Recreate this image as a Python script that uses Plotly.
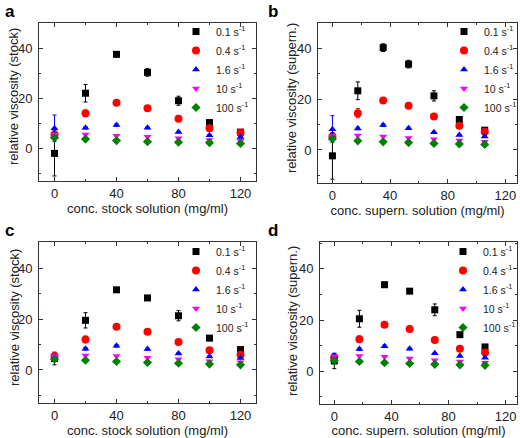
import plotly.graph_objects as go

# ---- data ----
x_stock = [0, 20, 40, 60, 80, 100, 120]
x_supern = [0, 17.6, 35.2, 52.8, 70.4, 88, 105.6]
rates = ["0.1 s<sup>-1</sup>", "0.4 s<sup>-1</sup>", "1.6 s<sup>-1</sup>", "10 s<sup>-1</sup>", "100 s<sup>-1</sup>"]

# panel a
a_01 = [-2, 22, 37.5, 30.3, 19, 10.3, 6.5]
a_01_err = [9, 3.5, 1, 1.5, 1.8, 0.6, 0.5]
a_04 = [5.5, 14, 18.2, 16, 11.8, 8, 6.2]
a_04_err = [1, 1.3, 0.5, 0.5, 0.5, 0.4, 0.3]
a_16 = [8, 8.2, 9.3, 8.2, 6.5, 5.2, 4.5]
a_16_err = [5.3, 0.5, 0.5, 0.4, 0.3, 0.3, 0.3]
a_10 = [5.5, 5.5, 5, 4.6, 4, 3.3, 3]
a_100 = [4.2, 3.7, 3.1, 2.7, 2.5, 2.3, 2]

# panel b
b_01 = [-2.3, 23.3, 40.3, 33.8, 21.3, 12, 7.8]
b_01_err = [9.2, 3.5, 1.5, 1.5, 2, 0.5, 0.5]
b_04 = [5.3, 14.5, 19.5, 17.4, 13.2, 9.5, 7.2]
b_04_err = [1, 1.8, 0.5, 0.5, 0.8, 0.4, 0.3]
b_16 = [8.2, 8.5, 9.8, 8.6, 7, 5.9, 5.3]
b_16_err = [5.3, 0.5, 0.5, 0.4, 0.3, 0.3, 0.3]
b_10 = [5.5, 5.7, 5.3, 4.7, 4.2, 3.7, 3.2]
b_100 = [4.3, 3.6, 3.2, 2.9, 2.6, 2.4, 2.2]

# panel c
c_01 = [4.5, 19.5, 31.5, 28.3, 21.3, 12.5, 8]
c_01_err = [2.5, 3, 0.5, 0.5, 2, 0.5, 0.5]
c_04 = [5.5, 12, 17, 15, 11, 7.7, 6]
c_04_err = [1, 1.3, 0.5, 0.5, 0.6, 0.4, 0.3]
c_16 = [5, 8.3, 9.5, 8.2, 6.5, 5.3, 4.7]
c_16_err = [1, 0.5, 0.5, 0.4, 0.3, 0.3, 0.3]
c_10 = [5.5, 5.7, 5.5, 4.8, 4.2, 3.4, 3]
c_100 = [4.2, 3.8, 3.3, 2.9, 2.6, 2.3, 2]

# panel d
d_01 = [4, 20.5, 33.8, 31.3, 24, 14.3, 9.5]
d_01_err = [3, 3.3, 1, 0.5, 2.3, 0.5, 0.5]
d_04 = [5.5, 12.5, 18.2, 16.5, 12.2, 8.8, 7.3]
d_04_err = [1, 1.3, 0.5, 0.5, 0.6, 0.4, 0.3]
d_16 = [6, 8.7, 9.8, 8.8, 7, 6, 5.3]
d_16_err = [1, 0.5, 0.5, 0.4, 0.3, 0.3, 0.3]
d_10 = [5.8, 6, 5.7, 5, 4.3, 3.8, 3.3]
d_100 = [4.2, 3.8, 3.3, 3, 2.7, 2.5, 2.3]

x_titles = ["conc. stock solution (mg/ml)", "conc. supern. solution (mg/ml)",
            "conc. stock solution (mg/ml)", "conc. supern. solution (mg/ml)"]
y_titles = ["relative viscosity (stock)", "relative viscosity (supern.)",
            "relative viscosity (stock)", "relative viscosity (supern.)"]
panel_labels = ["a", "b", "c", "d"]

panels = [
    (x_stock, [a_01, a_04, a_16, a_10, a_100], [a_01_err, a_04_err, a_16_err, None, None]),
    (x_supern, [b_01, b_04, b_16, b_10, b_100], [b_01_err, b_04_err, b_16_err, None, None]),
    (x_stock, [c_01, c_04, c_16, c_10, c_100], [c_01_err, c_04_err, c_16_err, None, None]),
    (x_supern, [d_01, d_04, d_16, d_10, d_100], [d_01_err, d_04_err, d_16_err, None, None]),
]

# ---- style ----
colors = ["#000000", "#ff0000", "#0000ff", "#ff00ff", "#008000"]
symbols = ["square", "circle", "triangle-up", "triangle-down", "diamond"]
sizes = [7, 8, 7, 7, 7]
font = "Arial, Liberation Sans, sans-serif"
W, H = 520, 438

boxes = [  # left, right, top, bottom in px
    (39, 256, 23, 181),
    (318, 517, 23, 183),
    (39, 256, 242, 403),
    (320, 517, 242, 404),
]
xranges = [[-10, 130], [-10, 128], [-10, 130], [-10, 128]]
yranges = [[-13, 50], [-13, 50], [-13, 50.3], [-12.8, 50.5]]
legend_pos = [(176, 17), (444, 17), (176, 237), (443, 237)]
label_pos = [(3, 0), (266, 0), (3, 219), (266, 219)]
ytitle_pos = [(14, 97), (292, 98), (14, 318), (292, 321)]

fig = go.Figure()
layout = dict(width=W, height=H, margin=dict(l=0, r=0, t=0, b=0, autoexpand=False),
              paper_bgcolor="white", plot_bgcolor="white", showlegend=True,
              font=dict(family=font, color="#222"))
annotations = []

for i, (xs, series, errs) in enumerate(panels):
    n = "" if i == 0 else str(i + 1)
    leg = "legend" if i == 0 else "legend" + str(i + 1)
    for k in range(5):
        err = errs[k]
        fig.add_trace(go.Scatter(
            x=xs, y=series[k], mode="markers", name=rates[k],
            xaxis="x" + n, yaxis="y" + n, legend=leg, cliponaxis=False,
            marker=dict(symbol=symbols[k], size=sizes[k], color=colors[k], line=dict(width=0)),
            error_y=(dict(type="data", array=err, visible=True, color=colors[k],
                          thickness=1, width=2) if err is not None else None),
        ))
    l, r, t, b = boxes[i]
    axis_common = dict(showline=True, linecolor="#333", linewidth=1, mirror="allticks",
                       ticks="inside", ticklen=4, tickcolor="#333", showgrid=False,
                       zeroline=False, automargin=False,
                       tickfont=dict(size=13, family=font, color="#222"))
    layout["xaxis" + n] = dict(axis_common, domain=[l / W, r / W], range=xranges[i],
                               anchor="y" + n, tickvals=[0, 40, 80, 120],
                               minor=dict(ticks="inside", ticklen=2, dtick=20, tick0=0, tickcolor="#333"),
                               title=dict(text=x_titles[i], font=dict(size=13, family=font, color="#222"),
                                          standoff=0))
    layout["yaxis" + n] = dict(axis_common, domain=[1 - b / H, 1 - t / H], range=yranges[i],
                               anchor="x" + n, tickvals=[0, 20, 40], ticklabelstandoff=3,
                               minor=dict(ticks="inside", ticklen=2, dtick=10, tick0=0, tickcolor="#333"))
    lx, ly = legend_pos[i]
    layout[leg] = dict(x=lx / W, y=1 - ly / H, xanchor="left", yanchor="top",
                       bgcolor="rgba(0,0,0,0)", font=dict(size=10.5, family=font, color="#222"),
                       itemwidth=30, tracegroupgap=0)
    px, py = label_pos[i]
    annotations.append(dict(text="<b>" + panel_labels[i] + "</b>", x=px / W, y=1 - py / H,
                            xref="paper", yref="paper", xanchor="left", yanchor="top",
                            showarrow=False, font=dict(size=17, family=font, color="#000")))
    tx, ty = ytitle_pos[i]
    annotations.append(dict(text=y_titles[i], x=tx / W, y=1 - ty / H, textangle=-90,
                            xref="paper", yref="paper", xanchor="center", yanchor="middle",
                            showarrow=False, font=dict(size=13, family=font, color="#222")))

layout["annotations"] = annotations
fig.update_layout(**layout)
fig.write_html("out.html", config={"displayModeBar": False},
               post_script="document.body.style.margin='0';")
